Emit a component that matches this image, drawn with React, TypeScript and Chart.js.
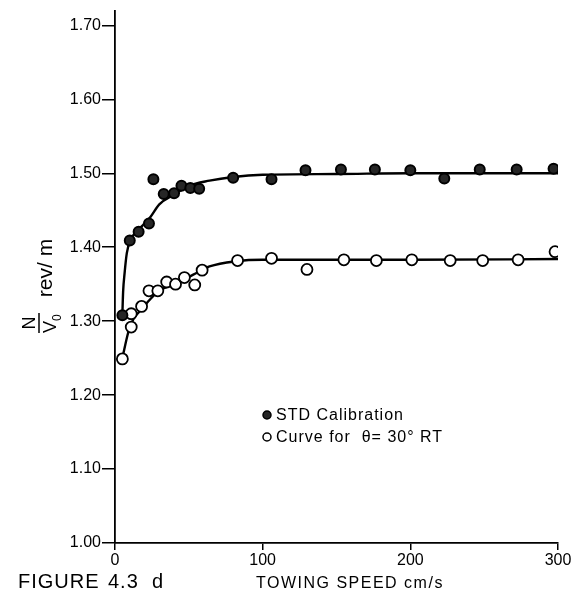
import React, { useEffect, useRef } from 'react';
import { Chart, registerables } from 'chart.js';

Chart.register(...registerables);

// ---- data ----
const stdSpeed = [5, 10, 16, 23, 26, 33, 40, 45, 51, 57, 80, 106, 129, 153, 176, 200, 223, 247, 272, 297];
const stdRatio = [1.308, 1.409, 1.421, 1.432, 1.492, 1.472, 1.473, 1.483, 1.480, 1.479, 1.494, 1.492, 1.504, 1.505, 1.505, 1.504, 1.493, 1.505, 1.505, 1.506];

const thetaSpeed = [5, 11, 11, 18, 23, 29, 35, 41, 47, 54, 59, 83, 106, 130, 155, 177, 201, 227, 249, 273, 298];
const thetaRatio = [1.249, 1.310, 1.292, 1.320, 1.341, 1.341, 1.353, 1.350, 1.359, 1.349, 1.369, 1.382, 1.385, 1.370, 1.383, 1.382, 1.383, 1.382, 1.382, 1.383, 1.394];

const stdFitSpeed = [5, 5.5, 6.5, 8, 10.5, 14.5, 19, 24, 30, 40, 50, 64, 80, 100, 150, 200, 300];
const stdFitRatio = [1.31, 1.34, 1.365, 1.392, 1.41, 1.421, 1.43, 1.441, 1.458, 1.471, 1.483, 1.49, 1.495, 1.498, 1.499, 1.5, 1.5];

const thetaFitSpeed = [5, 9, 12.5, 18, 24, 30, 42, 53, 64, 82, 100, 150, 200, 300];
const thetaFitRatio = [1.25, 1.285, 1.303, 1.316, 1.33, 1.341, 1.352, 1.363, 1.374, 1.381, 1.383, 1.383, 1.383, 1.384];

const yTickValues = [1.0, 1.1, 1.2, 1.3, 1.4, 1.5, 1.6, 1.7];
const xTickValues = [0, 100, 200, 300];

const legendLabels = ['STD Calibration', 'Curve for  θ= 30° RT'];
const figureParts = ['FIGURE', '4.3', 'd'];
const xTitle = 'TOWING SPEED cm/s';
const yTitleNum = 'N';
const yTitleDen = 'V';
const yTitleSub = '0';
const yTitleUnit = 'rev/ m';

const FONT = "'Liberation Sans', Arial, Helvetica, sans-serif";

const toPts = (xs: number[], ys: number[]) => xs.map((x, i) => ({ x, y: ys[i] }));

const annotationPlugin = {
  id: 'annotations',
  afterDraw(chart: any) {
    const ctx: CanvasRenderingContext2D = chart.ctx;
    const area = chart.chartArea;
    ctx.save();
    ctx.fillStyle = '#000';
    ctx.strokeStyle = '#000';

    // legend
    const legendSets = chart.data.datasets.filter((d: any) => d.legendIndex !== undefined);
    legendSets.forEach((d: any) => {
      const cy = 415 + d.legendIndex * 22;
      const cx = area.left + 152;
      ctx.beginPath();
      ctx.arc(cx, cy, 4, 0, Math.PI * 2);
      ctx.fillStyle = d.backgroundColor;
      ctx.fill();
      ctx.lineWidth = 1.5;
      ctx.strokeStyle = '#000';
      ctx.stroke();
      ctx.fillStyle = '#000';
      ctx.font = `16px ${FONT}`;
      (ctx as any).letterSpacing = '1px';
      ctx.textBaseline = 'middle';
      ctx.textAlign = 'left';
      ctx.fillText(legendLabels[d.legendIndex], cx + 9, cy + 1);
    });

    // figure caption
    (ctx as any).letterSpacing = '1px';
    ctx.font = `20px ${FONT}`;
    ctx.textBaseline = 'alphabetic';
    ctx.fillText(figureParts[0], 18, 588);
    ctx.fillText(figureParts[1], 108, 588);
    ctx.fillText(figureParts[2], 152, 588);

    // x title
    (ctx as any).letterSpacing = '1.5px';
    ctx.font = `16px ${FONT}`;
    ctx.fillText(xTitle, 256, 588);

    // y title (rotated)
    (ctx as any).letterSpacing = '0px';
    ctx.translate(39, 323);
    ctx.rotate(-Math.PI / 2);
    ctx.textAlign = 'center';
    ctx.font = `18px ${FONT}`;
    ctx.fillText(yTitleNum, 0, -4);
    ctx.beginPath();
    ctx.lineWidth = 1.5;
    ctx.moveTo(-10, 0);
    ctx.lineTo(10, 0);
    ctx.stroke();
    ctx.textAlign = 'left';
    ctx.fillText(yTitleDen, -10, 17);
    ctx.font = `12px ${FONT}`;
    ctx.fillText(yTitleSub, 2, 22);
    ctx.textAlign = 'center';
    ctx.font = `21px ${FONT}`;
    ctx.fillText(yTitleUnit, 55, 13);
    ctx.restore();
  },
};

export default function App() {
  const canvasRef = useRef<HTMLCanvasElement | null>(null);

  useEffect(() => {
    const canvas = canvasRef.current;
    if (!canvas) return;
    const chart = new Chart(canvas, {
      type: 'scatter',
      data: {
        datasets: [
          {
            label: legendLabels[0],
            legendIndex: 0,
            data: toPts(stdSpeed, stdRatio),
            backgroundColor: '#262626',
            borderColor: '#000',
            borderWidth: 2,
            pointRadius: 5,
            order: 1,
          } as any,
          {
            label: legendLabels[1],
            legendIndex: 1,
            data: toPts(thetaSpeed, thetaRatio),
            backgroundColor: '#fff',
            borderColor: '#000',
            borderWidth: 1.8,
            pointRadius: 5.5,
            order: 1,
          } as any,
          {
            label: 'std fit',
            type: 'line',
            data: toPts(stdFitSpeed, stdFitRatio),
            borderColor: '#000',
            borderWidth: 2.4,
            pointRadius: 0,
            showLine: true,
            cubicInterpolationMode: 'monotone',
            fill: false,
            order: 2,
          } as any,
          {
            label: 'theta fit',
            type: 'line',
            data: toPts(thetaFitSpeed, thetaFitRatio),
            borderColor: '#000',
            borderWidth: 2.4,
            pointRadius: 0,
            showLine: true,
            cubicInterpolationMode: 'monotone',
            fill: false,
            order: 2,
          } as any,
        ],
      },
      options: {
        responsive: false,
        animation: false,
        layout: { padding: { left: 0, top: 5, right: 15, bottom: 0 } },
        plugins: {
          legend: { display: false },
          tooltip: { enabled: false },
        },
        scales: {
          x: {
            type: 'linear',
            min: 0,
            max: 300,
            afterBuildTicks: (s: any) => {
              s.ticks = xTickValues.map((v) => ({ value: v }));
            },
            afterFit: (s: any) => {
              s.height = 59;
            },
            ticks: {
              color: '#000',
              padding: 1,
              font: { family: FONT, size: 16 },
              callback: (v: any) => String(v),
            },
            grid: { drawOnChartArea: false, drawTicks: true, tickLength: 7, color: '#000', lineWidth: 1.5 },
            border: { display: true, color: '#000', width: 1.8 },
          },
          y: {
            type: 'linear',
            min: 1.0,
            max: 1.72,
            afterBuildTicks: (s: any) => {
              s.ticks = yTickValues.map((v) => ({ value: v }));
            },
            afterFit: (s: any) => {
              s.width = 115;
            },
            ticks: {
              color: '#000',
              padding: 1,
              font: { family: FONT, size: 16 },
              callback: (v: any) => Number(v).toFixed(2),
            },
            grid: { drawOnChartArea: false, drawTicks: true, tickLength: 13, color: '#000', lineWidth: 1.5 },
            border: { display: true, color: '#000', width: 1.8 },
          },
        },
      },
      plugins: [annotationPlugin],
    } as any);
    return () => chart.destroy();
  }, []);

  return (
    <div style={{ position: 'fixed', left: 0, top: 0, width: 573, height: 602, background: '#fff' }}>
      <canvas ref={canvasRef} width={573} height={602} style={{ display: 'block' }} />
    </div>
  );
}
